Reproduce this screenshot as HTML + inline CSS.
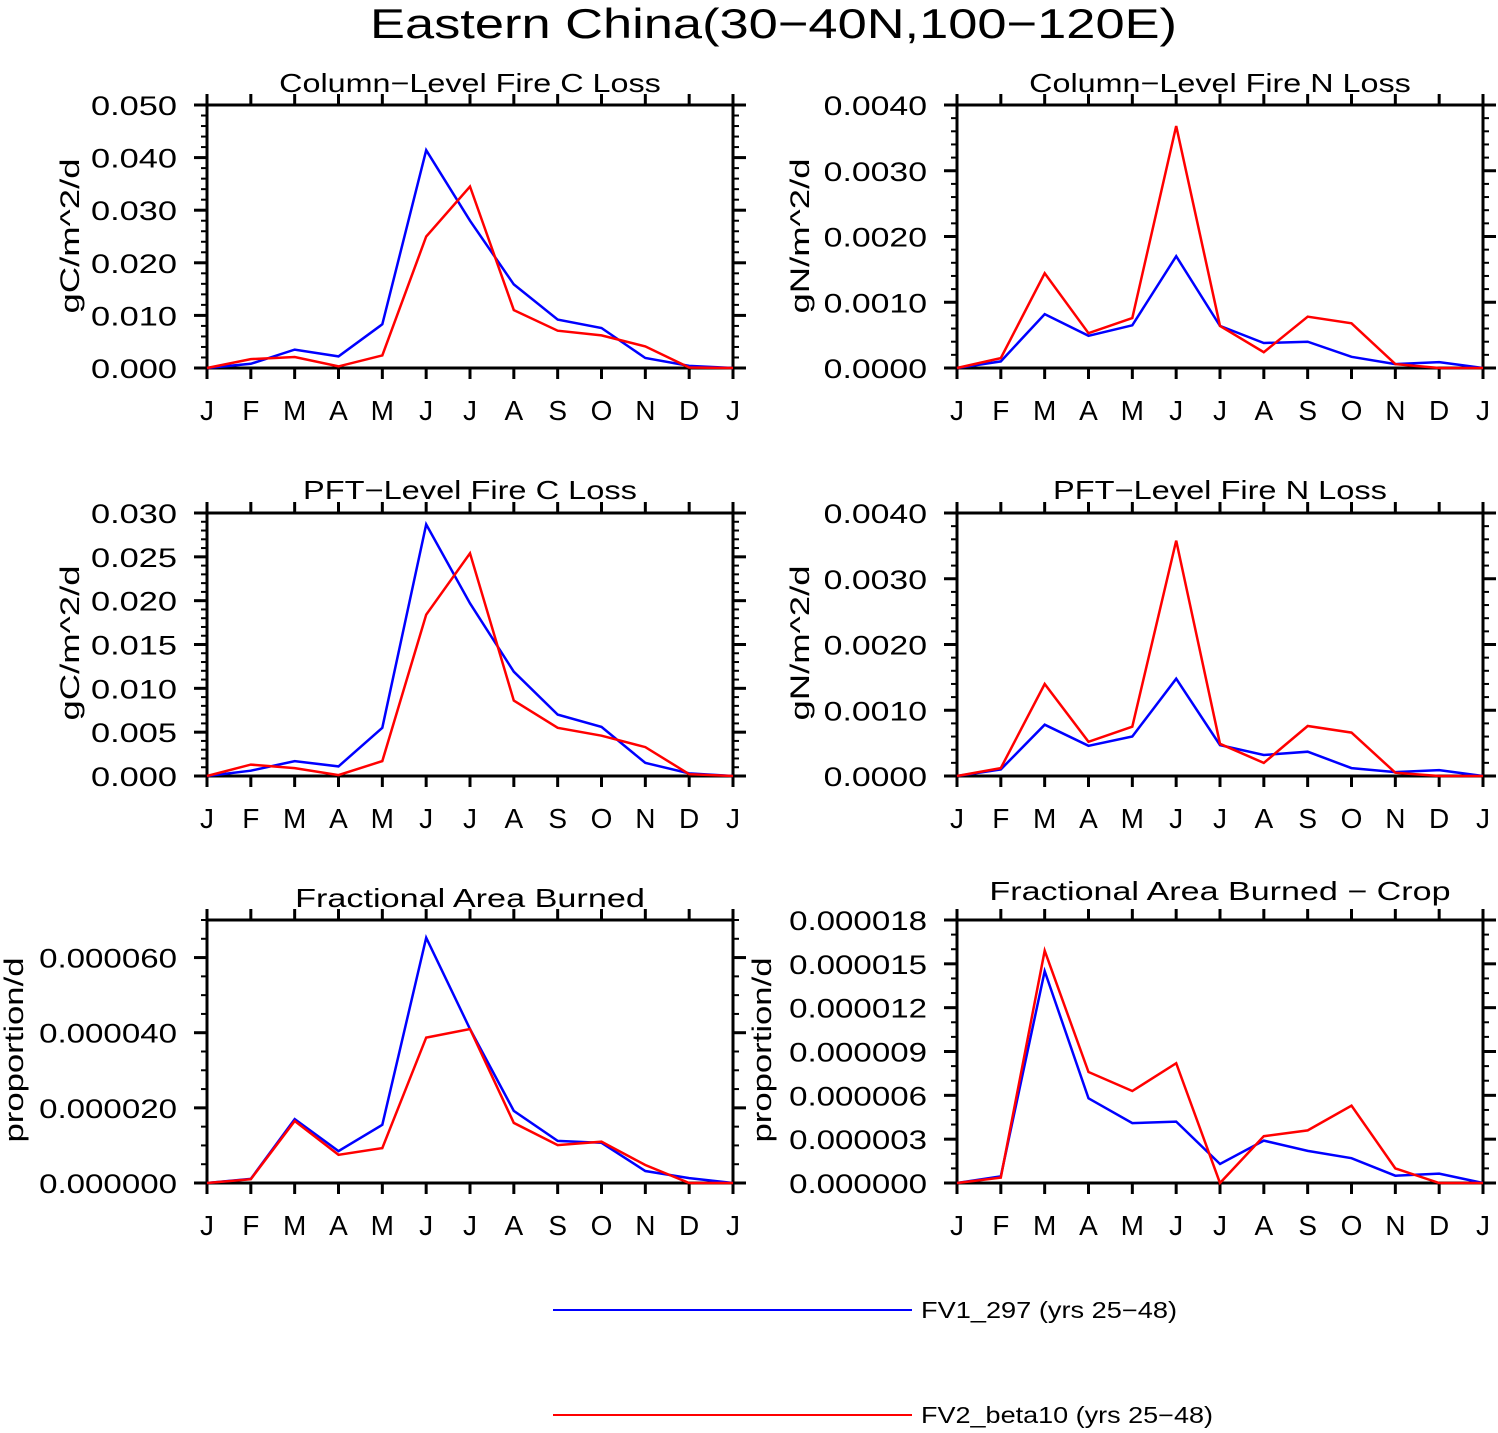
<!DOCTYPE html>
<html><head><meta charset="utf-8">
<style>
html,body{margin:0;padding:0;background:#fff;}
svg text{font-family:"Liberation Sans",sans-serif;fill:#000;}
</style></head>
<body>
<svg id="chart" width="1498" height="1428" viewBox="0 0 1498 1428" xmlns="http://www.w3.org/2000/svg">
<text x="370" y="38" font-size="42" textLength="807" lengthAdjust="spacingAndGlyphs">Eastern China(30−40N,100−120E)</text>
<g>
<line x1="553" y1="1310" x2="912" y2="1310" stroke="#0000ff" stroke-width="2"/>
<text x="921" y="1318" font-size="23" textLength="256" lengthAdjust="spacingAndGlyphs">FV1_297 (yrs 25−48)</text>
<line x1="553" y1="1415" x2="912" y2="1415" stroke="#ff0000" stroke-width="2"/>
<text x="921" y="1423" font-size="23" textLength="292" lengthAdjust="spacingAndGlyphs">FV2_beta10 (yrs 25−48)</text>
</g>
</svg>
<script>
const months = ["J","F","M","A","M","J","J","A","S","O","N","D","J"];
const c1Blue = [0,0.0008,0.0035,0.0022,0.0083,0.0414,0.028,0.0159,0.0092,0.0076,0.0019,0.0004,0];
const c1Red  = [0,0.0017,0.0021,0.0003,0.0024,0.025,0.0345,0.011,0.0071,0.0062,0.0041,0.0001,0];
const c1Ticks = ["0.000","0.010","0.020","0.030","0.040","0.050"];
const n1Blue = [0,0.0001,0.00082,0.00049,0.00065,0.0017,0.00064,0.00038,0.0004,0.00017,0.00006,0.00009,0];
const n1Red  = [0,0.00015,0.00144,0.00053,0.00076,0.00368,0.00064,0.00024,0.00078,0.00068,0.00006,0,0];
const n1Ticks = ["0.0000","0.0010","0.0020","0.0030","0.0040"];
const c2Blue = [0,0.0006,0.0017,0.0011,0.0055,0.0287,0.0197,0.0119,0.007,0.0056,0.0015,0.0003,0];
const c2Red  = [0,0.0013,0.0009,0.0001,0.0017,0.0184,0.0254,0.0086,0.0055,0.0046,0.0033,0.0002,0];
const c2Ticks = ["0.000","0.005","0.010","0.015","0.020","0.025","0.030"];
const n2Blue = [0,0.0001,0.00078,0.00046,0.0006,0.00148,0.00047,0.00032,0.00037,0.00012,0.00006,0.00009,0];
const n2Red  = [0,0.00012,0.0014,0.00052,0.00075,0.00358,0.00049,0.0002,0.00076,0.00066,0.00005,0,0];
const n2Ticks = ["0.0000","0.0010","0.0020","0.0030","0.0040"];
const faBlue = [0,0.0000011,0.000017,0.0000085,0.0000155,0.0000653,0.000041,0.0000192,0.0000112,0.0000107,0.0000032,0.0000013,0];
const faRed  = [0,0.000001,0.0000165,0.0000075,0.0000093,0.0000387,0.000041,0.000016,0.0000101,0.000011,0.0000048,0,0];
const faTicks = ["0.000000","0.000020","0.000040","0.000060"];
const fcBlue = [0,0.00000046,0.0000145,0.0000058,0.0000041,0.0000042,0.0000013,0.0000029,0.0000022,0.0000017,0.0000005,0.00000064,0];
const fcRed  = [0,0.00000037,0.0000159,0.0000076,0.0000063,0.0000082,0,0.0000032,0.0000036,0.0000053,0.000001,0,0];
const fcTicks = ["0.000000","0.000003","0.000006","0.000009","0.000012","0.000015","0.000018"];

const NS="http://www.w3.org/2000/svg";
const svg=document.getElementById('chart');
function mk(tag,attrs,parent){const e=document.createElementNS(NS,tag);for(const k in attrs)e.setAttribute(k,attrs[k]);(parent||svg).appendChild(e);return e;}

const panels=[
 {id:"col-c",title:"Column−Level Fire C Loss",yl:"gC/m^2/d",ylLen:155,x0:207,y0:105,ymax:0.05,major:0.01,minor:0.002,ticks:c1Ticks,blue:c1Blue,red:c1Red,labX:70,labY:236,ty:82},
 {id:"col-n",title:"Column−Level Fire N Loss",yl:"gN/m^2/d",ylLen:155,x0:957,y0:105,ymax:0.004,major:0.001,minor:0.0002,ticks:n1Ticks,blue:n1Blue,red:n1Red,labX:800,labY:236,ty:82},
 {id:"pft-c",title:"PFT−Level Fire C Loss",yl:"gC/m^2/d",ylLen:155,x0:207,y0:513,ymax:0.03,major:0.005,minor:0.001,ticks:c2Ticks,blue:c2Blue,red:c2Red,labX:70,labY:643,ty:489},
 {id:"pft-n",title:"PFT−Level Fire N Loss",yl:"gN/m^2/d",ylLen:155,x0:957,y0:513,ymax:0.004,major:0.001,minor:0.0002,ticks:n2Ticks,blue:n2Blue,red:n2Red,labX:800,labY:643,ty:489},
 {id:"frac",title:"Fractional Area Burned",yl:"proportion/d",ylLen:185,x0:207,y0:920,ymax:0.00007,major:0.00002,minor:0.000005,ticks:faTicks,blue:faBlue,red:faRed,labX:14,labY:1050,ty:897},
 {id:"frac-crop",title:"Fractional Area Burned − Crop",yl:"proportion/d",ylLen:185,x0:957,y0:920,ymax:0.000018,major:0.000003,minor:0.000001,ticks:fcTicks,blue:fcBlue,red:fcRed,labX:762,labY:1050,ty:890}
];
const W=526,H=263;
panels.forEach(p=>{
 const g=mk('g',{});
 
 
 const xs=i=>p.x0+i*W/12;
 const ys=v=>p.y0+H-v/p.ymax*H;
 const tw=p.title.length*15.9;
 const t=mk('text',{x:p.x0+W/2-tw/2,y:p.ty+10,'font-size':26,textLength:tw,lengthAdjust:'spacingAndGlyphs'},g);
 t.textContent=p.title;
 
 
 const yl=mk('text',{x:p.labX-p.ylLen/2,y:p.labY+9,'font-size':27,textLength:p.ylLen,lengthAdjust:'spacingAndGlyphs',transform:`rotate(-90 ${p.labX} ${p.labY})`},g);
 yl.setAttribute('x', p.labX - p.ylLen/2);
 yl.textContent=p.yl;
 
 
 const nMinor=Math.round(p.ymax/p.minor);
 for(let k=0;k<=nMinor;k++){
  const y=ys(k*p.minor);
  mk('line',{x1:p.x0-6,x2:p.x0,y1:y,y2:y,stroke:'#000','stroke-width':2},g);
  mk('line',{x1:p.x0+W,x2:p.x0+W+6,y1:y,y2:y,stroke:'#000','stroke-width':2},g);
 }
 p.ticks.forEach((lab,k)=>{
  const y=ys(k*p.major);
  mk('line',{x1:p.x0-13,x2:p.x0,y1:y,y2:y,stroke:'#000','stroke-width':3},g);
  mk('line',{x1:p.x0+W,x2:p.x0+W+13,y1:y,y2:y,stroke:'#000','stroke-width':3},g);
  const lw=lab.length*17.3-0.5;
  const tl=mk('text',{x:p.x0-30-lw,y:y+10,'font-size':27,textLength:lw,lengthAdjust:'spacingAndGlyphs'},g);
  tl.textContent=lab;
  
  
 });
 months.forEach((m,i)=>{
  const x=xs(i);
  mk('line',{x1:x,x2:x,y1:p.y0-11,y2:p.y0,stroke:'#000','stroke-width':3},g);
  mk('line',{x1:x,x2:x,y1:p.y0+H,y2:p.y0+H+11,stroke:'#000','stroke-width':3},g);
  const tl=mk('text',{x:x,y:p.y0+H+52,'font-size':28,'text-anchor':'middle'},g);
  tl.textContent=m;
  
  
 });
 const fr=mk('rect',{x:p.x0,y:p.y0,width:W,height:H,fill:'none',stroke:'#000','stroke-width':3},g);
 
 
 [['blue',p.blue,'#0000ff'],['red',p.red,'#ff0000']].forEach(([nm,arr,col])=>{
  const pts=arr.map((v,i)=>xs(i).toFixed(1)+','+ys(v).toFixed(1)).join(' ');
  const l=mk('polyline',{points:pts,fill:'none',stroke:col,'stroke-width':2.5,'stroke-linejoin':'miter'},g);
  
  
 });
});
</script>
</body></html>
